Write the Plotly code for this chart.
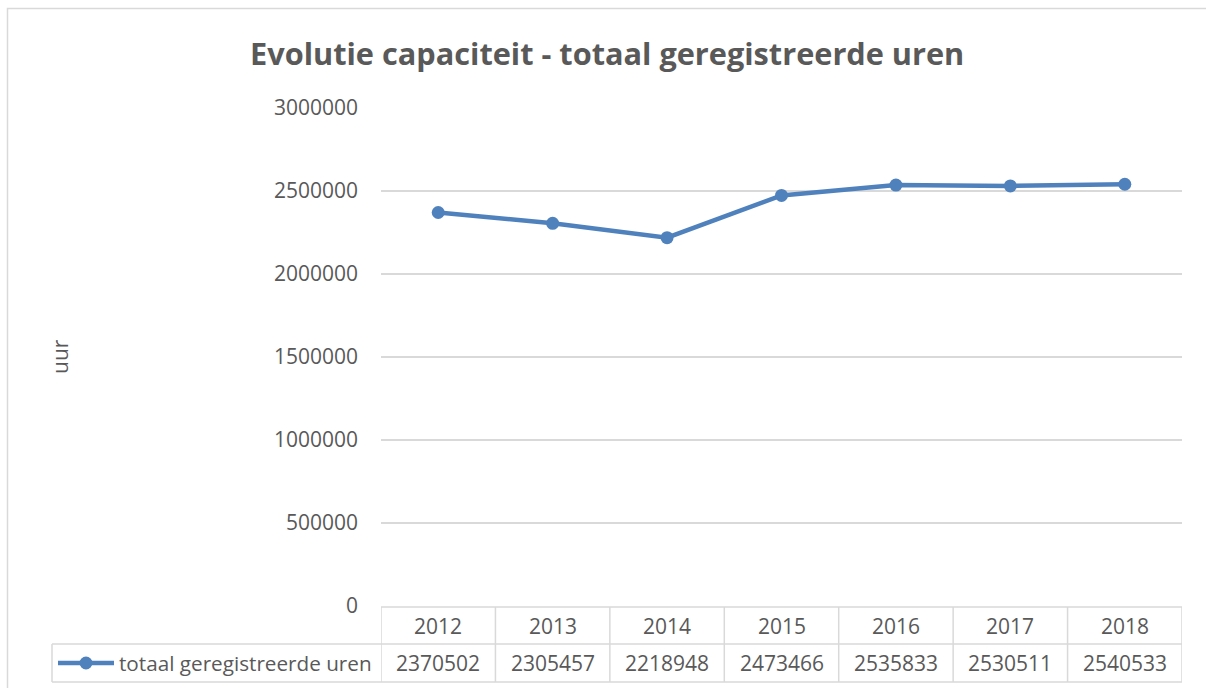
import plotly.graph_objects as go

years = ["2012", "2013", "2014", "2015", "2016", "2017", "2018"]
hours = [2370502, 2305457, 2218948, 2473466, 2535833, 2530511, 2540533]
series_name = "totaal geregistreerde uren"
title_text = "Evolutie capaciteit - totaal geregistreerde uren"
y_title = "uur"
y_ticks = [0, 500000, 1000000, 1500000, 2000000, 2500000, 3000000]

# body margin is removed after plotting, so the figure sits at (0, 0) in the window
OFF = 0
W, H = 1206, 688
PL, PR, PT, PB = 381, 1182, 108, 606  # plot area in window pixels
L, T = PL - OFF, PT - OFF
R = W - (PR - OFF)
B = H - (PB - OFF)
PW, PH = PR - PL, PB - PT

def px(x):
    return (x - PL) / PW

def py(y):
    return (PB - y) / PH

LINE = "#4F81BD"
TXT = "#595959"
GRID = "#D9D9D9"
FONT = "Open Sans"
FS = 21

idx = list(range(len(years)))

fig = go.Figure()
fig.add_trace(go.Scatter(
    x=idx, y=hours, mode="lines+markers",
    line=dict(color=LINE, width=4.5),
    marker=dict(color=LINE, size=13),
    name=series_name, showlegend=False, hoverinfo="x+y",
))

shapes = []
# outer chart border
shapes.append(dict(type="rect", xref="paper", yref="paper",
                   x0=px(7.5), x1=px(1225), y0=py(710), y1=py(8.5),
                   line=dict(color=GRID, width=1.5), fillcolor="rgba(0,0,0,0)", layer="below"))
# data table lines
row_top, row_mid, row_bot = 607, 644, 682
shapes.append(dict(type="line", xref="x", yref="paper", x0=-0.5, x1=len(years) - 0.5,
                   y0=py(row_top), y1=py(row_top), line=dict(color=GRID, width=1.5)))
for yy in (row_mid, row_bot):
    shapes.append(dict(type="line", xref="paper", yref="paper", x0=px(52), x1=1.0,
                       y0=py(yy), y1=py(yy), line=dict(color=GRID, width=1.5)))
for k in range(len(years) + 1):
    shapes.append(dict(type="line", xref="x", yref="paper", x0=k - 0.5, x1=k - 0.5,
                       y0=py(row_top), y1=py(row_bot), line=dict(color=GRID, width=1.5)))
shapes.append(dict(type="line", xref="paper", yref="paper", x0=px(52), x1=px(52),
                   y0=py(row_mid), y1=py(row_bot), line=dict(color=GRID, width=1.5)))
# legend key
shapes.append(dict(type="line", xref="paper", yref="paper", x0=px(58), x1=px(114),
                   y0=py(663), y1=py(663), line=dict(color=LINE, width=4.5)))
shapes.append(dict(type="circle", xref="paper", yref="paper", xsizemode="pixel", ysizemode="pixel",
                   xanchor=px(86), yanchor=py(663), x0=-6.5, x1=6.5, y0=-6.5, y1=6.5,
                   fillcolor=LINE, line=dict(color=LINE, width=0)))

annotations = []
annotations.append(dict(text="<b>" + title_text + "</b>", xref="paper", yref="paper",
                        x=px(607), y=py(53), xanchor="center", yanchor="middle",
                        showarrow=False, font=dict(family=FONT, size=30.7, color=TXT)))
annotations.append(dict(text=y_title, xref="paper", yref="paper", x=px(60), y=py(357),
                        xanchor="center", yanchor="middle", textangle=-90, showarrow=False,
                        font=dict(family=FONT, size=FS, color=TXT)))
for i, (yr, v) in enumerate(zip(years, hours)):
    annotations.append(dict(text=yr, xref="x", yref="paper", x=i, y=py(626),
                            xanchor="center", yanchor="middle", showarrow=False,
                            font=dict(family=FONT, size=FS, color=TXT)))
    annotations.append(dict(text=str(v), xref="x", yref="paper", x=i, y=py(663),
                            xanchor="center", yanchor="middle", showarrow=False,
                            font=dict(family=FONT, size=FS, color=TXT)))
annotations.append(dict(text=series_name, xref="paper", yref="paper", x=px(117), y=py(663),
                        xanchor="left", yanchor="middle", showarrow=False,
                        font=dict(family=FONT, size=20.7, color=TXT)))

fig.update_layout(
    width=W, height=H,
    margin=dict(l=L, r=R, t=T, b=B, pad=0),
    paper_bgcolor="white", plot_bgcolor="white",
    shapes=shapes, annotations=annotations,
    xaxis=dict(range=[-0.5, len(years) - 0.5], showgrid=False, zeroline=False,
               showticklabels=False, showline=False, fixedrange=True),
    yaxis=dict(range=[0, 3000000], tickvals=y_ticks, ticktext=[str(t) for t in y_ticks],
               showgrid=True, gridcolor=GRID, gridwidth=1.5, zeroline=False, showline=False,
               ticks="", ticklabelstandoff=22,
               tickfont=dict(family=FONT, size=FS, color=TXT), fixedrange=True),
    showlegend=False,
)

fig.write_html(
    "out.html",
    config={"displayModeBar": False},
    post_script=("document.body.style.margin='0';document.body.style.padding='0';"
                 "document.documentElement.style.overflow='hidden';"),
)
